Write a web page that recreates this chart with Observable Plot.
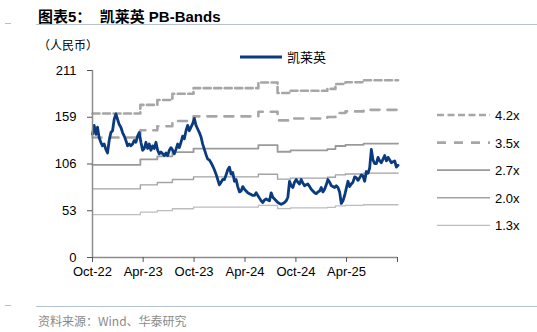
<!DOCTYPE html>
<html><head><meta charset="utf-8">
<script src="https://cdn.jsdelivr.net/npm/d3@7"></script>
<script src="https://cdn.jsdelivr.net/npm/@observablehq/plot@0.6"></script>
<style>
body{margin:0;background:#fff;}
#wrap{position:relative;width:537px;height:332px;overflow:hidden;font-family:"Liberation Sans",Arial,"Noto Sans CJK SC",sans-serif;color:#000;}
.abs{position:absolute;white-space:nowrap;}
#title{left:38px;top:5px;font-size:15px;font-weight:bold;font-family:"Liberation Sans","Noto Sans CJK SC",sans-serif;}
#tline{left:36px;top:24px;width:501px;height:0;border-top:1.5px solid #b4c3d3;}
#tdash{left:5px;top:23px;width:6px;border-top:1.5px solid #b4c3d3;}
#unit{left:38px;top:36px;font-size:12px;font-family:"Noto Sans CJK SC",sans-serif;}
#cline{left:36px;top:306px;width:501px;border-top:1px solid #b4c3d3;}
#cdash{left:5px;top:305px;width:6px;border-top:1px solid #b4c3d3;}
#caption{left:38px;top:312px;font-size:12px;color:#8a8a8a;font-family:"Noto Sans CJK SC",sans-serif;}
#chart{left:0;top:50px;}
#legTop{left:236px;top:47px;}
#legRight{left:430px;top:100px;}
</style></head>
<body><div id="wrap">
<div class="abs" id="title">图表5：&nbsp;&nbsp;凯莱英 PB-Bands</div>
<div class="abs" id="tdash"></div><div class="abs" id="tline"></div>
<div class="abs" id="unit">（人民币）</div>
<div class="abs" id="chart"></div>
<div class="abs" id="legTop"></div>
<div class="abs" id="legRight"></div>
<div class="abs" id="cdash"></div><div class="abs" id="cline"></div>
<div class="abs" id="caption">资料来源：Wind、华泰研究</div>
</div>
<script>
const seriesName = "凯莱英";
const priceDates = ["2022-10-01","2022-10-07","2022-10-13","2022-10-19","2022-10-25","2022-10-31","2022-11-06","2022-11-12","2022-11-18","2022-11-24","2022-11-30","2022-12-06","2022-12-12","2022-12-18","2022-12-24","2022-12-30",
"2023-01-05","2023-01-11","2023-01-17","2023-01-23","2023-01-29","2023-02-04","2023-02-10","2023-02-16","2023-02-22","2023-02-28","2023-03-06","2023-03-12","2023-03-18","2023-03-24","2023-03-30","2023-04-05","2023-04-11","2023-04-17","2023-04-23","2023-04-29","2023-05-05","2023-05-11","2023-05-17","2023-05-23","2023-05-29","2023-06-04","2023-06-10","2023-06-16","2023-06-22","2023-06-28","2023-07-04","2023-07-10","2023-07-16","2023-07-22","2023-07-28","2023-08-03","2023-08-09","2023-08-15","2023-08-21","2023-08-27","2023-09-02","2023-09-08","2023-09-14","2023-09-20","2023-09-26","2023-10-02","2023-10-08","2023-10-14","2023-10-20","2023-10-26","2023-11-01","2023-11-07","2023-11-13","2023-11-19","2023-11-25","2023-12-01","2023-12-07","2023-12-13","2023-12-19","2023-12-25","2023-12-31",
"2024-01-06","2024-01-12","2024-01-18","2024-01-24","2024-01-30","2024-02-05","2024-02-11","2024-02-17","2024-02-23","2024-02-29","2024-03-06","2024-03-12","2024-03-18","2024-03-24","2024-03-30","2024-04-05","2024-04-11","2024-04-17","2024-04-23","2024-04-29","2024-05-05","2024-05-11","2024-05-17","2024-05-23","2024-05-29","2024-06-04","2024-06-10","2024-06-16","2024-06-22","2024-06-28","2024-07-04","2024-07-10","2024-07-16","2024-07-22","2024-07-28","2024-08-03","2024-08-09","2024-08-15","2024-08-21","2024-08-27","2024-09-02","2024-09-08","2024-09-14","2024-09-20","2024-09-26","2024-10-02","2024-10-08","2024-10-14","2024-10-20","2024-10-26","2024-11-01","2024-11-07","2024-11-13","2024-11-19","2024-11-25","2024-12-01","2024-12-07","2024-12-13","2024-12-19","2024-12-25","2024-12-31",
"2025-01-06","2025-01-12","2025-01-18","2025-01-24","2025-01-30","2025-02-05","2025-02-11","2025-02-17","2025-02-23","2025-03-01","2025-03-07","2025-03-13","2025-03-19","2025-03-25","2025-03-31","2025-04-06","2025-04-12","2025-04-18","2025-04-24","2025-04-30","2025-05-06","2025-05-12","2025-05-18","2025-05-24","2025-05-30","2025-06-05","2025-06-11","2025-06-17","2025-06-23","2025-06-29","2025-07-05","2025-07-11","2025-07-17","2025-07-23","2025-07-29","2025-08-04","2025-08-10","2025-08-16","2025-08-22","2025-08-28","2025-09-03","2025-09-09","2025-09-15","2025-09-21","2025-09-27","2025-10-03"];
const prices = [139,149,139,147,135,130,126,128,122,118,132,141,143,156,162,156,
150,147,141,137,132,126,128,126,128,132,130,137,141,130,121,123,130,123,128,121,126,123,130,121,117,119,117,115,118,115,121,124,121,117,122,128,124,130,137,134,143,149,143,147,151,157,149,145,141,136,128,122,116,111,110,107,103,99,94,88,82,
85,88,88,93,99,102,94,96,86,88,80,74,75,80,77,75,73,72,71,70,70,73,70,67,64,62,65,66,65,64,73,68,66,64,62,61,60,61,62,64,68,86,81,79,85,88,85,83,88,84,81,82,83,80,77,75,73,72,74,75,79,
74,77,82,88,85,81,80,79,81,79,74,61,64,70,78,86,80,83,85,91,90,87,90,93,92,86,97,95,101,122,110,106,106,113,109,107,111,115,109,113,110,107,108,109,102,104];

// book value per share (step dates)
const bvDates = ["2022-10-01","2023-03-22","2023-05-22","2023-07-15","2023-09-29","2024-05-19","2024-07-27","2024-09-12","2025-01-22","2025-02-20","2025-03-28","2025-06-01","2025-10-03"];
const bvps = [38.7,41.0,42.3,44.0,45.5,47.0,44.2,44.8,45.3,46.6,47.1,47.6,47.6];

const multiples = [4.2,3.5,2.7,2.0,1.25];
const bandLabels = ["4.2x","3.5x","2.7x","2.0x","1.3x"];
const bandColors = ["#a6a6a6","#a6a6a6","#9a9a9a","#a3a3a3","#bdbdbd"];
const bandWidths = [2.6,2.6,1.8,1.4,1.3];
const bandDashes = ["7,3.5","9,8",null,null,null];
const lineColor = "#0b3b7f";

const xTicks = ["2022-10-01","2023-04-01","2023-10-01","2024-04-01","2024-10-01","2025-04-01","2025-10-01"];
const xTickLabels = ["Oct-22","Apr-23","Oct-23","Apr-24","Oct-24","Apr-25",""];
const yTicks = [0,52.75,105.5,158.25,211];
const yTickLabels = ["0","53","106","159","211"];

const P = priceDates.map((d,i)=>({date:new Date(d), v:prices[i]}));
const bands = multiples.map((m,k)=>bvDates.map((d,i)=>({date:new Date(d), v:bvps[i]*m})));
const xDom = [new Date(xTicks[0]), new Date(xTicks[xTicks.length-1])];

const marks = [];
bands.forEach((b,k)=>{
  marks.push(Plot.line(b,{x:"date",y:"v",curve:"step-after",stroke:bandColors[k],strokeWidth:bandWidths[k],strokeDasharray:bandDashes[k]||undefined}));
});
marks.push(Plot.line(P,{x:"date",y:"v",stroke:lineColor,strokeWidth:2.8,strokeLinejoin:"round"}));
marks.push(Plot.ruleX([xDom[0]],{y1:0,y2:211,stroke:"#8c8c8c",strokeWidth:1.5}));
marks.push(Plot.ruleY([0],{stroke:"#8c8c8c",strokeWidth:1.5}));
marks.push(Plot.axisY({ticks:yTicks,label:null,tickFormat:(d)=>yTickLabels[yTicks.indexOf(d)],tickSize:5,tickPadding:11,stroke:"#555",fill:"#000"}));
marks.push(Plot.axisX({ticks:xTicks.map(d=>new Date(d)),label:null,tickFormat:(d)=>xTickLabels[xTicks.findIndex(t=>+new Date(t)===+d)],tickSize:5,tickPadding:4,stroke:"#555",fill:"#000"}));

const chart = Plot.plot({
  width:537, height:237,
  marginLeft:92, marginRight:140, marginTop:20, marginBottom:30,
  x:{type:"utc",domain:xDom,label:null},
  y:{domain:[0,211],label:null},
  style:{fontSize:"13px",fontFamily:"'Liberation Sans',Arial,sans-serif",background:"transparent",color:"#000"},
  marks
});
document.getElementById("chart").appendChild(chart);

// top legend
const lt = d3.select("#legTop").append("svg").attr("width",110).attr("height",20);
lt.append("line").attr("x1",4).attr("x2",46).attr("y1",10).attr("y2",10).attr("stroke",lineColor).attr("stroke-width",3);
lt.append("text").attr("x",51).attr("y",15).attr("font-size",13).attr("font-family","'Noto Sans CJK SC',sans-serif").text(seriesName);

// right legend
const lr = d3.select("#legRight").append("svg").attr("width",107).attr("height",140);
bandLabels.forEach((lab,k)=>{
  const y = 15 + k*27.6;
  const ln = lr.append("line").attr("x1",7).attr("x2",60).attr("y1",y).attr("y2",y).attr("stroke",bandColors[k]).attr("stroke-width",bandWidths[k]);
  if (bandDashes[k]) ln.attr("stroke-dasharray",bandDashes[k]);
  lr.append("text").attr("x",65).attr("y",y+5).attr("font-size",13).attr("font-family","'Liberation Sans',Arial,sans-serif").text(lab);
});
</script>
</body></html>
